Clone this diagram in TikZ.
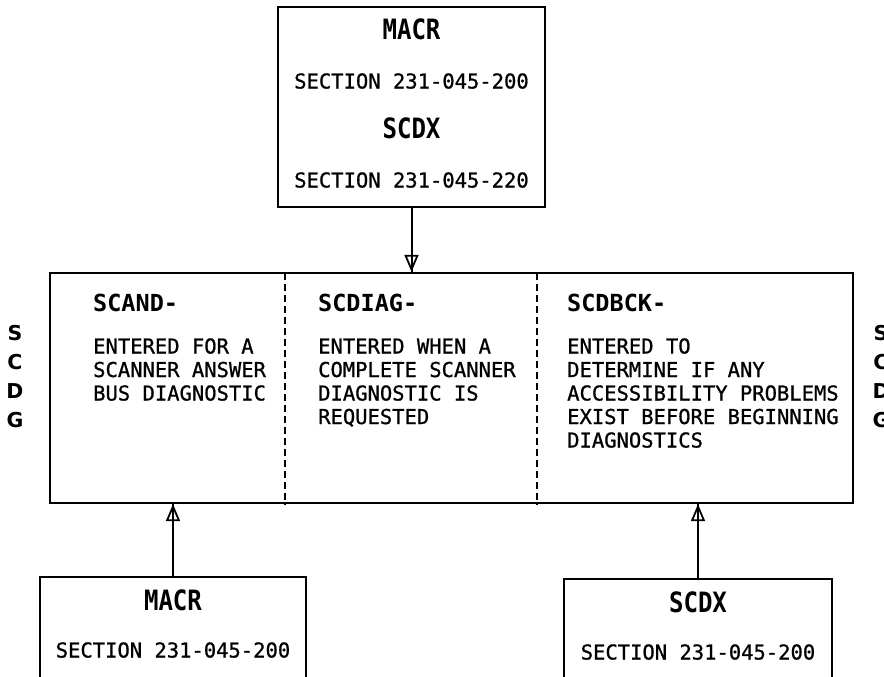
\documentclass[tikz,border=0pt]{standalone}
\usepackage{fontspec}
\newfontfamily\mono[FakeBold=0.9]{DejaVu Sans Mono}
\newfontfamily\monohead{DejaVu Sans Mono Bold}
\newfontfamily\monotall[FakeStretch=0.86]{DejaVu Sans Mono Bold}
\newfontfamily\sidefont{DejaVu Sans Bold}
\usetikzlibrary{arrows.meta}
\tikzset{
  box/.style={draw, line width=2.2pt, inner sep=0pt},
  divider/.style={line width=1.6pt, dash pattern=on 7pt off 4pt},
  arr/.style={line width=2pt, -{Triangle[open, length=17pt, width=14pt, line width=1.8pt]}},
  shaft/.style={line width=2pt},
  title/.style={inner sep=0pt, font=\monotall\fontsize{28}{30}\selectfont},
  head/.style={inner sep=0pt, anchor=base west, font=\monohead\fontsize{23.5}{25}\selectfont},
  body/.style={inner sep=0pt, anchor=base west, font=\mono\fontsize{20.5}{22}\selectfont},
  sect/.style={inner sep=0pt, anchor=base, font=\mono\fontsize{20.5}{22}\selectfont},
  side/.style={inner sep=0pt, anchor=base, font=\sidefont\fontsize{20.5}{24}\selectfont},
}
\begin{document}
\begin{tikzpicture}[x=1pt, y=-1pt]
\useasboundingbox (0,0) rectangle (884,677);

% boxes
\node[box, minimum width=267pt, minimum height=200pt] (top) at (411.5,107) {};
\node[box, minimum width=803pt, minimum height=230pt] (main) at (451.5,388) {};
\node[box, minimum width=266pt, minimum height=123pt] (bl) at (173,638.5) {};
\node[box, minimum width=268pt, minimum height=121pt] (br) at (698,639.5) {};

% dashed dividers
\coordinate (d1t) at (285,273);
\coordinate (d2t) at (537,273);
\draw[divider] (d1t) -- (d1t |- main.south);
\draw[divider] (d2t) -- (d2t |- main.south);

% connectors
\draw[shaft] (top.south) -- (top.south |- main.north);
\draw[arr] (top.south) -- (top.south |- main.north);
\draw[shaft] (bl.north) -- (bl.north |- main.south);
\draw[arr] (bl.north) -- (bl.north |- main.south);
\draw[shaft] (br.north) -- (br.north |- main.south);
\draw[arr] (br.north) -- (br.north |- main.south);

% top box text
\node[title, anchor=base] (t1) at (411.5,40) {MACR};
\node[sect] (t2) at (411.5,88.5) {SECTION 231-045-200};
\node[title, anchor=base] (t3) at (411.5,139) {SCDX};
\node[sect] (t4) at (411.5,187.5) {SECTION 231-045-220};

% bottom boxes text
\node[title, anchor=base] (b1) at (173,610) {MACR};
\node[sect] (b2) at (173,657.5) {SECTION 231-045-200};
\node[title, anchor=base] (b3) at (698,612) {SCDX};
\node[sect] (b4) at (698,659.5) {SECTION 231-045-200};

% column 1
\node[head] (h1) at (93,311.5) {SCAND-};
\foreach \t [count=\i] in {ENTERED FOR A, SCANNER ANSWER, BUS DIAGNOSTIC}
  \node[body] (ca\i) at (93,{353.5+23.5*(\i-1)}) {\t};

% column 2
\node[head] (h2) at (318,311.5) {SCDIAG-};
\foreach \t [count=\i] in {ENTERED WHEN A, COMPLETE SCANNER, DIAGNOSTIC IS, REQUESTED}
  \node[body] (cb\i) at (318,{353.5+23.5*(\i-1)}) {\t};

% column 3
\node[head] (h3) at (567,311.5) {SCDBCK-};
\foreach \t [count=\i] in {ENTERED TO, DETERMINE IF ANY, ACCESSIBILITY PROBLEMS, EXIST BEFORE BEGINNING, DIAGNOSTICS}
  \node[body] (cc\i) at (567,{353.5+23.5*(\i-1)}) {\t};

% side letters
\foreach \l [count=\i] in {S,C,D,G} {
  \node[side] (sl\i) at (15,{340+29*(\i-1)}) {\l};
  \node[side] (sr\i) at (881,{340+29*(\i-1)}) {\l};
}
\end{tikzpicture}
\end{document}
